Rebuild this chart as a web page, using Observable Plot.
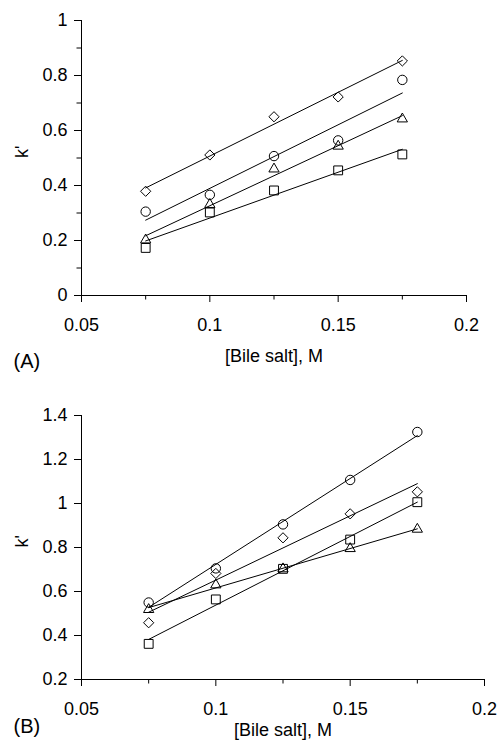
<!DOCTYPE html>
<html><head><meta charset="utf-8">
<script src="https://cdn.jsdelivr.net/npm/d3@7"></script>
<script src="https://cdn.jsdelivr.net/npm/@observablehq/plot@0.6"></script>
<style>
body{margin:0;background:#fff;}
#chart{width:500px;height:749px;}
#chart svg{display:block;}
</style></head><body><div id="chart"></div>
<script>
// Bile salt concentration (M)
const conc = [0.075, 0.1, 0.125, 0.15, 0.175];

// Panel A: k' values
const aDiamond  = [0.379, 0.511, 0.650, 0.722, 0.853];
const aCircle   = [0.305, 0.366, 0.507, 0.564, 0.784];
const aTriangle = [0.202, 0.331, 0.460, 0.543, 0.642];
const aSquare   = [0.173, 0.302, 0.382, 0.455, 0.513];

// Panel B: k' values
const bCircle   = [0.550, 0.705, 0.905, 1.107, 1.325];
const bDiamond  = [0.458, 0.682, 0.844, 0.953, 1.053];
const bTriangle = [0.518, 0.630, 0.703, 0.795, 0.883];
const bSquare   = [0.362, 0.564, 0.703, 0.836, 1.006];

// Axis ticks
const xDomain = [0.05, 0.2];
const xTicks = [0.05, 0.1, 0.15, 0.2];
const xMinor = [0.075, 0.125, 0.175];
const aYDomain = [0, 1];
const aYTicks = [0, 0.2, 0.4, 0.6, 0.8, 1];
const aYMinor = [0.1, 0.3, 0.5, 0.7, 0.9];
const bYDomain = [0.2, 1.4];
const bYTicks = [0.2, 0.4, 0.6, 0.8, 1, 1.2, 1.4];

const xLabel = "[Bile salt], M";
const yLabel = "k'";
const tags = ["(A)", "(B)"];

const fmt = d => String(+d.toFixed(3));
const toRows = vals => conc.map((x, i) => ({x, y: vals[i]}));

const symbolSize = {circle: 4.7, square: 5.0, diamond2: 4.6, triangle2: 4.9};

function panel(cfg) {
  const marks = [
    Plot.ruleX([xDomain[0]], {stroke: "black"}),
    Plot.ruleY([cfg.yDomain[0]], {stroke: "black"}),
    Plot.axisX({ticks: xTicks, tickSize: 7, tickPadding: 16, tickFormat: fmt, label: null, stroke: "black"}),
    Plot.axisX({ticks: xMinor, tickSize: 4.5, tickFormat: () => "", label: null, stroke: "black"}),
    Plot.axisY({ticks: cfg.yTicks, tickSize: 7, tickPadding: 7, tickFormat: fmt, label: null, stroke: "black"})
  ];
  if (cfg.yMinor) marks.push(Plot.axisY({ticks: cfg.yMinor, tickSize: 4.5, tickFormat: () => "", label: null, stroke: "black"}));
  for (const s of cfg.series) {
    marks.push(Plot.linearRegressionY(toRows(s.values), {x: "x", y: "y", ci: 0, stroke: "black", strokeWidth: 1}));
  }
  for (const s of cfg.series) {
    marks.push(Plot.dot(toRows(s.values), {x: "x", y: "y", symbol: s.symbol, r: symbolSize[s.symbol], stroke: "black", strokeWidth: 1, fill: "none"}));
  }
  marks.push(Plot.text([xLabel], {text: d => d, frameAnchor: "bottom", dy: cfg.xLabelDy, lineAnchor: "middle"}));
  marks.push(Plot.text([yLabel], {text: d => d, frameAnchor: "left", rotate: -90, dx: -59, lineAnchor: "middle"}));
  marks.push(Plot.text([cfg.tag], {text: d => d, frameAnchor: "bottom-left", dx: -68, dy: cfg.tagDy, textAnchor: "start", lineAnchor: "middle", fontSize: 20}));
  return Plot.plot({
    width: 500,
    height: cfg.height,
    marginLeft: 81,
    marginRight: cfg.marginRight,
    marginTop: cfg.marginTop,
    marginBottom: cfg.marginBottom,
    x: {domain: xDomain},
    y: {domain: cfg.yDomain},
    style: {fontFamily: "'Liberation Sans', Arial, sans-serif", fontSize: "18px", color: "black", background: "white", overflow: "visible"},
    marks
  });
}

const chart = document.getElementById("chart");
chart.append(panel({
  height: 375, marginTop: 20, marginBottom: 80, marginRight: 34,
  yDomain: aYDomain, yTicks: aYTicks, yMinor: aYMinor,
  xLabelDy: 61, tagDy: 66, tag: tags[0],
  series: [
    {values: aDiamond, symbol: "diamond2"},
    {values: aCircle, symbol: "circle"},
    {values: aTriangle, symbol: "triangle2"},
    {values: aSquare, symbol: "square"}
  ]
}));
chart.append(panel({
  height: 374, marginTop: 40, marginBottom: 70, marginRight: 16,
  yDomain: bYDomain, yTicks: bYTicks, yMinor: null,
  xLabelDy: 51, tagDy: 47, tag: tags[1],
  series: [
    {values: bCircle, symbol: "circle"},
    {values: bDiamond, symbol: "diamond2"},
    {values: bTriangle, symbol: "triangle2"},
    {values: bSquare, symbol: "square"}
  ]
}));
</script></body></html>
